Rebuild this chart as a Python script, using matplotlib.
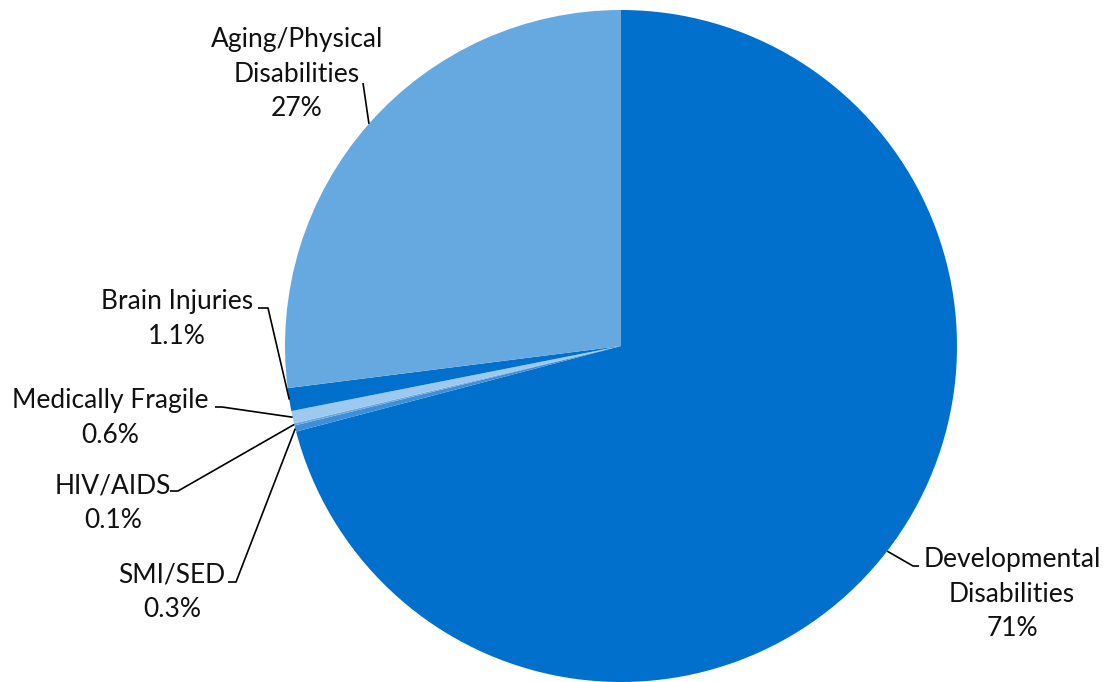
import numpy as np
import matplotlib.pyplot as plt

labels = ['Developmental\nDisabilities', 'SMI/SED', 'HIV/AIDS', 'Medically Fragile',
          'Brain Injuries', 'Aging/Physical\nDisabilities']
values = [70.9, 0.3, 0.1, 0.6, 1.1, 27.0]
pct_text = ['71%', '0.3%', '0.1%', '0.6%', '1.1%', '27%']
colors = ['#0070CC', '#3D8FDA', '#66A9E0', '#9EC9EE', '#0070CC', '#66A9E0']

W, H = 1105, 682
fig = plt.figure(figsize=(W / 100, H / 100), dpi=100)
ax = fig.add_axes([0, 0, 1, 1])

cx, cy, r = 621, 346, 336
# y axis is inverted, so counterclock=True draws clockwise on screen
wedges, _ = ax.pie(values, colors=colors, startangle=-90, counterclock=True,
                   center=(cx, cy), radius=r, frame=True,
                   wedgeprops=dict(linewidth=0))
ax.set_xlim(0, W)
ax.set_ylim(H, 0)
ax.axis('off')

# label layout: (text x, text y, elbow points from label side)
layout = [
    (1012, 594, [(919, 566), (913, 566)]),
    (172, 592, [(228, 582), (236, 582)]),
    (113, 503, [(170, 491), (178, 491)]),
    (110, 418, [(215, 407), (222, 407)]),
    (177, 319, [(258, 308), (268, 308)]),
    (297, 74, [(363, 83)]),
]

for w, lab, pct, (tx, ty, pts) in zip(wedges, labels, pct_text, layout):
    mid = np.deg2rad((w.theta1 + w.theta2) / 2)
    ax_pt = (cx + r * np.cos(mid), cy + r * np.sin(mid))
    xs = [p[0] for p in pts] + [ax_pt[0]]
    ys = [p[1] for p in pts] + [ax_pt[1]]
    ax.plot(xs, ys, color='black', linewidth=1.2, solid_capstyle='butt')
    ax.text(tx, ty, lab + '\n' + pct, ha='center', va='center', fontsize=19,
            family='Lato', linespacing=1.48, color='#111111')

fig.savefig('out.png', dpi=100)
